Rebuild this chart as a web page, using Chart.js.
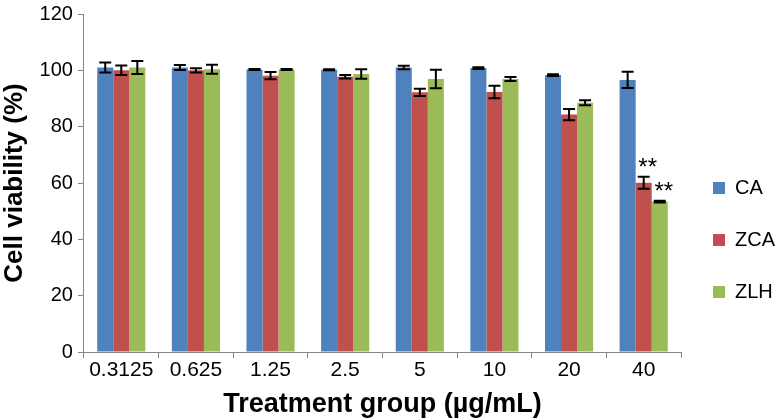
<!DOCTYPE html>
<html><head><meta charset="utf-8">
<script src="https://cdn.jsdelivr.net/npm/chart.js@4.4.1/dist/chart.umd.min.js"></script>
<style>html,body{margin:0;padding:0;background:#fff;}canvas{display:block;}</style>
</head><body>
<canvas id="c" width="778" height="420"></canvas>
<script>
const categories = ['0.3125', '0.625', '1.25', '2.5', '5', '10', '20', '40'];
const seriesNames = ['CA', 'ZCA', 'ZLH'];
const seriesColors = ['#4F81BD', '#C0504D', '#9BBB59'];
const caValues  = [101.0, 101.0, 100.3, 100.2, 101.0, 100.8, 98.3, 96.6];
const caErrors  = [1.8, 0.9, 0.2, 0.2, 0.6, 0.3, 0.3, 2.9];
const zcaValues = [100.0, 100.0, 98.1, 97.7, 92.2, 92.3, 84.3, 60.1];
const zcaErrors = [1.7, 0.75, 1.3, 0.6, 1.3, 2.2, 2.0, 2.1];
const zlhValues = [101.0, 100.4, 100.3, 98.7, 96.9, 96.9, 88.5, 53.4];
const zlhErrors = [2.3, 1.6, 0.2, 1.7, 3.3, 0.7, 0.9, 0.3];
const caMarks  = ['', '', '', '', '', '', '', ''];
const zcaMarks = ['', '', '', '', '', '', '', '**'];
const zlhMarks = ['', '', '', '', '', '', '', '**'];
const yTicks = [0, 20, 40, 60, 80, 100, 120];
const xTitle = 'Treatment group (µg/mL)';
const yTitle = 'Cell viability (%)';

const FONT = "'Liberation Sans', Arial, sans-serif";
const AXIS = '#868686';

const whiteBg = {
  id: 'whiteBg',
  beforeDraw(chart) {
    const c = chart.ctx;
    c.save(); c.fillStyle = '#fff'; c.fillRect(0, 0, chart.width, chart.height); c.restore();
  }
};

const errorBars = {
  id: 'errorBars',
  afterDatasetsDraw(chart) {
    const c = chart.ctx, ys = chart.scales.y;
    chart.data.datasets.forEach((ds, i) => {
      const meta = chart.getDatasetMeta(i);
      meta.data.forEach((bar, j) => {
        const v = ds.data[j], e = ds.errors[j];
        const top = ys.getPixelForValue(v + e), bot = ys.getPixelForValue(v - e);
        c.save();
        c.strokeStyle = '#000'; c.lineWidth = 2;
        c.beginPath();
        c.moveTo(bar.x, top); c.lineTo(bar.x, bot);
        c.moveTo(bar.x - 6, top); c.lineTo(bar.x + 6, top);
        c.moveTo(bar.x - 6, bot); c.lineTo(bar.x + 6, bot);
        c.stroke();
        if (ds.marks[j]) {
          c.fillStyle = '#000';
          c.font = '24px ' + FONT;
          c.textAlign = 'center';
          c.textBaseline = 'alphabetic';
          c.fillText(ds.marks[j], bar.x + 4, top - 2);
        }
        c.restore();
      });
    });
  }
};

const values = [caValues, zcaValues, zlhValues];
const errors = [caErrors, zcaErrors, zlhErrors];
const marks = [caMarks, zcaMarks, zlhMarks];

new Chart(document.getElementById('c'), {
  type: 'bar',
  data: {
    labels: categories,
    datasets: seriesNames.map((name, i) => ({
      label: name,
      data: values[i],
      errors: errors[i],
      marks: marks[i],
      backgroundColor: seriesColors[i],
      borderWidth: 0,
      categoryPercentage: 0.645,
      barPercentage: 1.0
    }))
  },
  options: {
    responsive: false,
    animation: false,
    layout: { padding: 0 },
    plugins: {
      tooltip: { enabled: false },
      legend: {
        position: 'right',
        align: 'center',
        maxWidth: 97,
        title: { display: true, text: '', font: { size: 10, lineHeight: 1 }, padding: { top: 50, bottom: 0 } },
        labels: { boxWidth: 12, boxHeight: 12, padding: 32, color: '#000', font: { family: FONT, size: 20 } }
      }
    },
    scales: {
      x: {
        grid: { display: true, drawOnChartArea: false, drawTicks: true, tickLength: 6, color: AXIS, offset: true },
        border: { color: AXIS, width: 1 },
        ticks: { color: '#000', font: { family: FONT, size: 21, lineHeight: 1 }, padding: 2, maxRotation: 0, autoSkip: false },
        title: { display: true, text: xTitle, color: '#000', font: { family: FONT, size: 27, weight: 'bold', lineHeight: 1 }, padding: { top: 8, bottom: 2 } }
      },
      y: {
        min: 0, max: 120,
        afterBuildTicks: s => { s.ticks = yTicks.map(v => ({ value: v })); },
        grid: { display: true, drawOnChartArea: false, drawTicks: true, tickLength: 6, color: AXIS },
        border: { color: AXIS, width: 1 },
        ticks: { color: '#000', font: { family: FONT, size: 20, lineHeight: 0.9 }, padding: 5 },
        title: { display: true, text: yTitle, color: '#000', font: { family: FONT, size: 26, weight: 'bold', lineHeight: 1 }, padding: { top: 2, bottom: 6.6 } }
      }
    }
  },
  plugins: [whiteBg, errorBars]
});
</script>
</body></html>
